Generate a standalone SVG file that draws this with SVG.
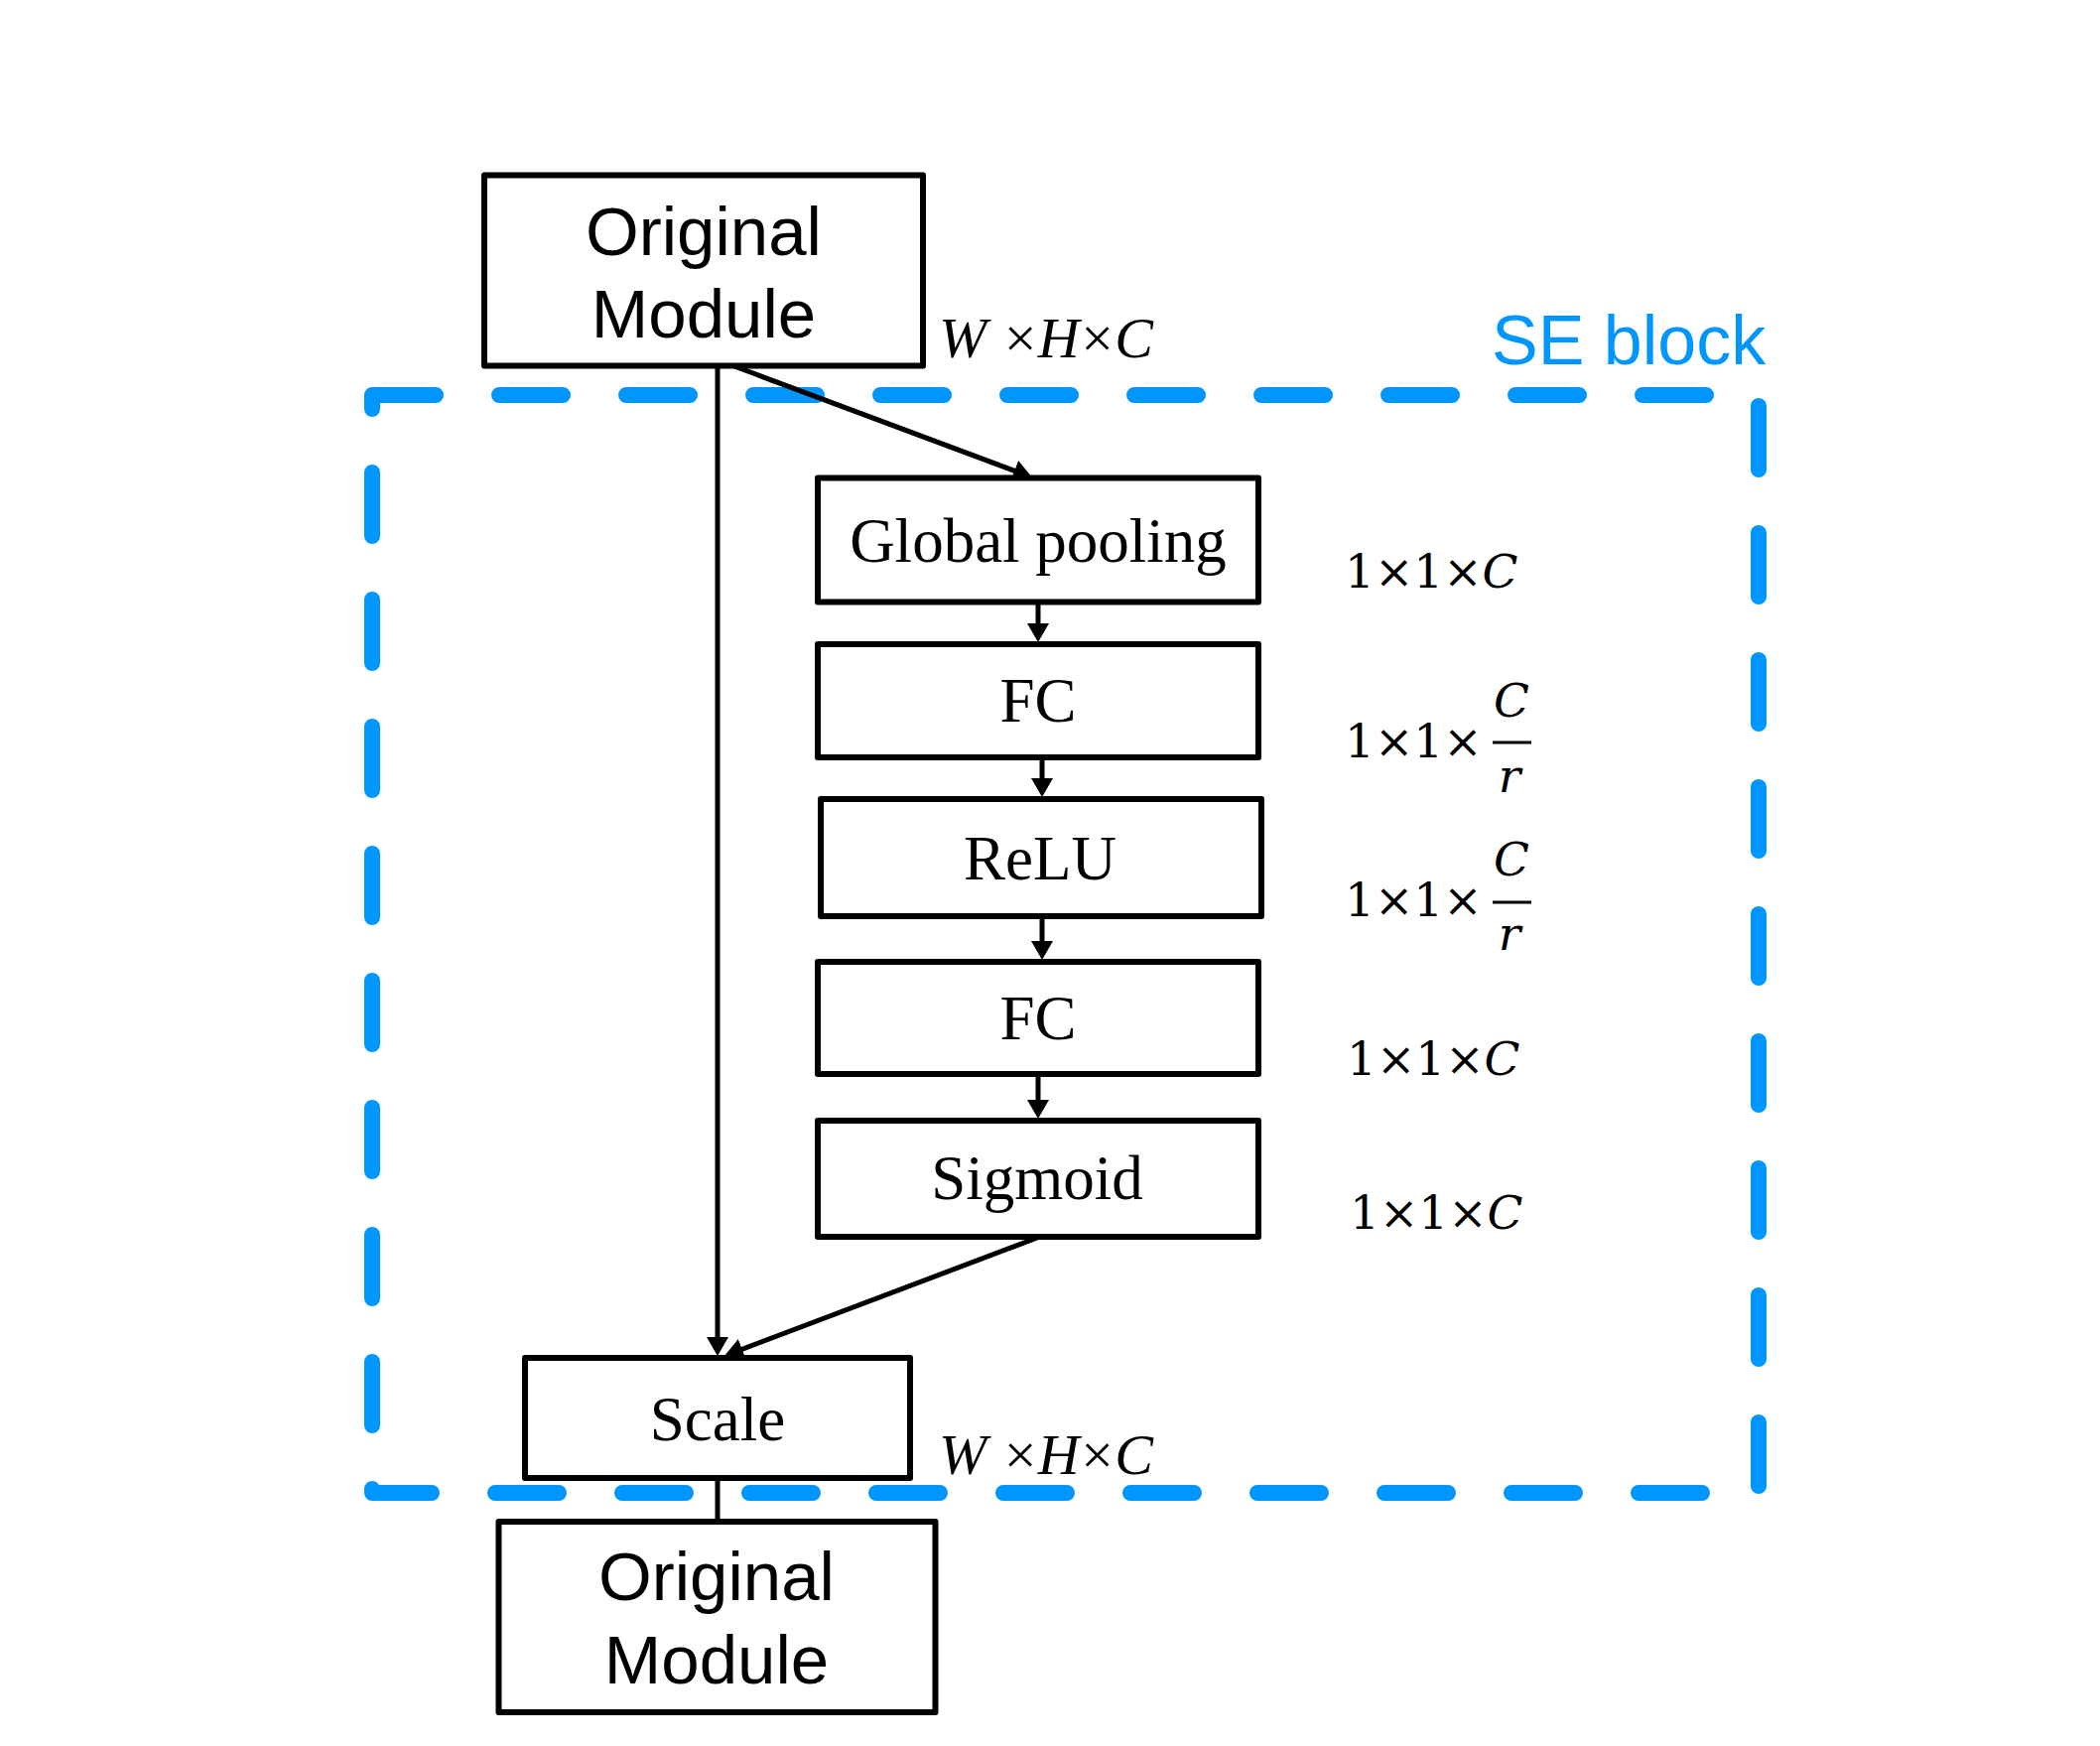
<svg xmlns="http://www.w3.org/2000/svg" width="2116" height="1759" viewBox="0 0 2116 1759">
  <style>
    .box { fill: #ffffff; stroke: #000000; stroke-width: 6; stroke-linejoin: round; }
    .lbl { font-family: "Liberation Serif", "Times New Roman", serif; font-size: 63px; fill: #000000; text-anchor: middle; }
    .mod { font-family: "Liberation Sans", Arial, sans-serif; font-size: 69px; fill: #000000; text-anchor: middle; }
    .conn { fill: none; stroke: #000000; stroke-width: 5; }
    .dim { font-family: "Liberation Serif", "Times New Roman", serif; font-size: 58px; fill: #000000; }
    .dim2 { font-family: "DejaVu Serif", "Liberation Serif", serif; font-size: 47px; fill: #000000; }
    .it { font-style: italic; }
    .se { fill: none; stroke: #0096FF; stroke-width: 16; stroke-linecap: round; stroke-linejoin: round; stroke-dasharray: 64 64; }
    .setxt { font-family: "Liberation Sans", Arial, sans-serif; font-size: 70px; fill: #0096FF; }
  </style>
  <defs>
    <marker id="arrow" markerUnits="userSpaceOnUse" markerWidth="20" markerHeight="24" refX="10" refY="11" orient="auto">
      <path d="M0,0 L19,11 L0,22 Z" fill="#000000"/>
    </marker>
  </defs>
  <rect width="2116" height="1759" fill="#ffffff"/>

  <g id="se-block">
    <path class="se" d="M375,398 H1772 V1504 H375 Z"/>
    <text class="setxt" x="1503" y="367">SE block</text>
  </g>

  <g id="connectors">
    <line class="conn" x1="723" y1="371" x2="723" y2="1357" marker-end="url(#arrow)"/>
    <line class="conn" x1="740" y1="369" x2="1031.6" y2="477.8" marker-end="url(#arrow)"/>
    <line class="conn" x1="1046" y1="607" x2="1046" y2="638" marker-end="url(#arrow)"/>
    <line class="conn" x1="1050" y1="763" x2="1050" y2="794" marker-end="url(#arrow)"/>
    <line class="conn" x1="1050" y1="923" x2="1050" y2="958" marker-end="url(#arrow)"/>
    <line class="conn" x1="1046" y1="1082" x2="1046" y2="1118" marker-end="url(#arrow)"/>
    <line class="conn" x1="1045" y1="1247" x2="738.4" y2="1362.8" marker-end="url(#arrow)"/>
    <line class="conn" x1="723" y1="1489" x2="723" y2="1533"/>
  </g>

  <g id="original-module-top">
    <rect class="box" x="488" y="176.5" width="442" height="192"/>
    <text class="mod" x="709" y="257">Original</text>
    <text class="mod" x="709" y="340">Module</text>
  </g>

  <g id="global-pooling">
    <rect class="box" x="824" y="481.5" width="444" height="125"/>
    <text class="lbl" x="1046" y="566">Global pooling</text>
  </g>

  <g id="fc1">
    <rect class="box" x="824" y="649" width="444" height="114"/>
    <text class="lbl" x="1046" y="727">FC</text>
  </g>

  <g id="relu">
    <rect class="box" x="827" y="805" width="444" height="118"/>
    <text class="lbl" x="1048" y="886">ReLU</text>
  </g>

  <g id="fc2">
    <rect class="box" x="824" y="969" width="444" height="113"/>
    <text class="lbl" x="1046" y="1047">FC</text>
  </g>

  <g id="sigmoid">
    <rect class="box" x="824" y="1129" width="444" height="117"/>
    <text class="lbl" x="1045" y="1208">Sigmoid</text>
  </g>

  <g id="scale">
    <rect class="box" x="529" y="1368" width="388" height="121"/>
    <text class="lbl" x="723" y="1451">Scale</text>
  </g>

  <g id="original-module-bottom">
    <rect class="box" x="502.5" y="1533" width="440" height="192"/>
    <text class="mod" x="722" y="1612">Original</text>
    <text class="mod" x="722" y="1696">Module</text>
  </g>

  <g id="dim-labels">
    <text class="dim" x="946" y="360" textLength="216"><tspan class="it">W</tspan> ×<tspan class="it">H</tspan>×<tspan class="it">C</tspan></text>
    <text class="dim" x="946" y="1485" textLength="216"><tspan class="it">W</tspan> ×<tspan class="it">H</tspan>×<tspan class="it">C</tspan></text>

    <text class="dim2" x="1355" y="592">1×1×<tspan class="it">C</tspan></text>

    <text class="dim2" x="1355" y="763">1×1×</text>
    <text class="dim2 it" x="1523" y="722" text-anchor="middle">C</text>
    <line x1="1504" y1="748" x2="1543" y2="748" stroke="#000000" stroke-width="3"/>
    <text class="dim2 it" x="1521" y="798" text-anchor="middle">r</text>

    <text class="dim2" x="1355" y="923">1×1×</text>
    <text class="dim2 it" x="1523" y="882" text-anchor="middle">C</text>
    <line x1="1504" y1="909" x2="1543" y2="909" stroke="#000000" stroke-width="3"/>
    <text class="dim2 it" x="1521" y="957" text-anchor="middle">r</text>

    <text class="dim2" x="1357" y="1083">1×1×<tspan class="it">C</tspan></text>
    <text class="dim2" x="1360" y="1238">1×1×<tspan class="it">C</tspan></text>
  </g>
</svg>
